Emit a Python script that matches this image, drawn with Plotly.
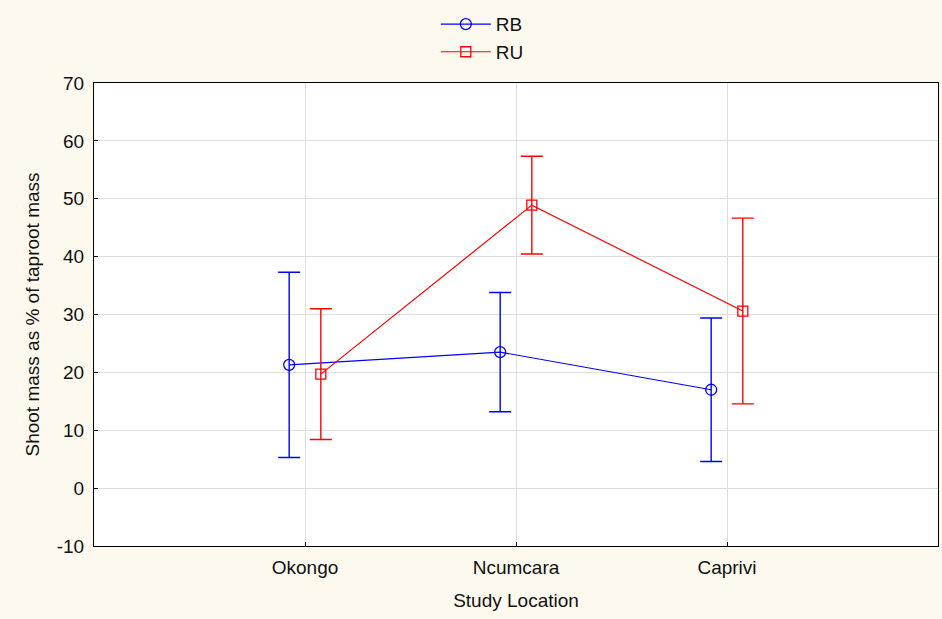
import plotly.graph_objects as go

locations = ["Okongo", "Ncumcara", "Caprivi"]
rb_mean = [21.3, 23.5, 17.0]
rb_err = [16.0, 10.3, 12.4]
ru_mean = [19.7, 48.9, 30.6]
ru_err = [11.3, 8.45, 16.05]
y_ticks = [-10, 0, 10, 20, 30, 40, 50, 60, 70]
y_labels = [str(v) for v in y_ticks]

dodge = 0.075
pos = list(range(len(locations)))

fig = go.Figure()
fig.add_trace(go.Scatter(
    x=[p - dodge for p in pos], y=rb_mean, name="RB", mode="lines+markers",
    line=dict(color="#0000ff", width=1.2),
    marker=dict(symbol="circle-open", size=11, color="#0000ff", line=dict(width=1.3)),
    error_y=dict(type="data", array=rb_err, visible=True, color="#0000ff", thickness=1.4, width=11),
))
fig.add_trace(go.Scatter(
    x=[p + dodge for p in pos], y=ru_mean, name="RU", mode="lines+markers",
    line=dict(color="#ff0000", width=1.2),
    marker=dict(symbol="square-open", size=10, color="#ff0000", line=dict(width=1.3)),
    error_y=dict(type="data", array=ru_err, visible=True, color="#ff0000", thickness=1.4, width=11),
))

axis_font = dict(family="Liberation Sans, Arial, sans-serif", size=19, color="#111111")
fig.update_layout(
    width=942, height=619,
    margin=dict(l=94, r=4, t=83, b=73, autoexpand=False),
    paper_bgcolor="#fdf9ee", plot_bgcolor="#ffffff",
    font=axis_font,
    showlegend=True,
    legend=dict(
        orientation="v", x=0.405, xanchor="left",
        y=1.168, yanchor="top", itemwidth=50,
        bgcolor="rgba(0,0,0,0)", font=dict(size=19), tracegroupgap=0,
    ),
    xaxis=dict(
        range=[-1, 3], tickmode="array", tickvals=pos, ticktext=locations,
        showgrid=True, gridcolor="#dddddd", gridwidth=1,
        showline=True, linecolor="#000000", linewidth=1, mirror=True,
        ticks="inside", ticklen=4, tickcolor="#000000", zeroline=False,
        ticklabelstandoff=4,
        title=dict(text="Study Location", font=dict(size=19), standoff=16),
    ),
    yaxis=dict(
        range=[-10, 70], tickmode="array", tickvals=y_ticks, ticktext=y_labels,
        showgrid=True, gridcolor="#dddddd", gridwidth=1,
        showline=True, linecolor="#000000", linewidth=1, mirror=True,
        ticks="inside", ticklen=4, tickcolor="#000000", zeroline=False,
        ticklabelstandoff=5,
        title=dict(text="Shoot mass as % of taproot mass", font=dict(size=19), standoff=12),
    ),
)

fig.write_html("out.html")
